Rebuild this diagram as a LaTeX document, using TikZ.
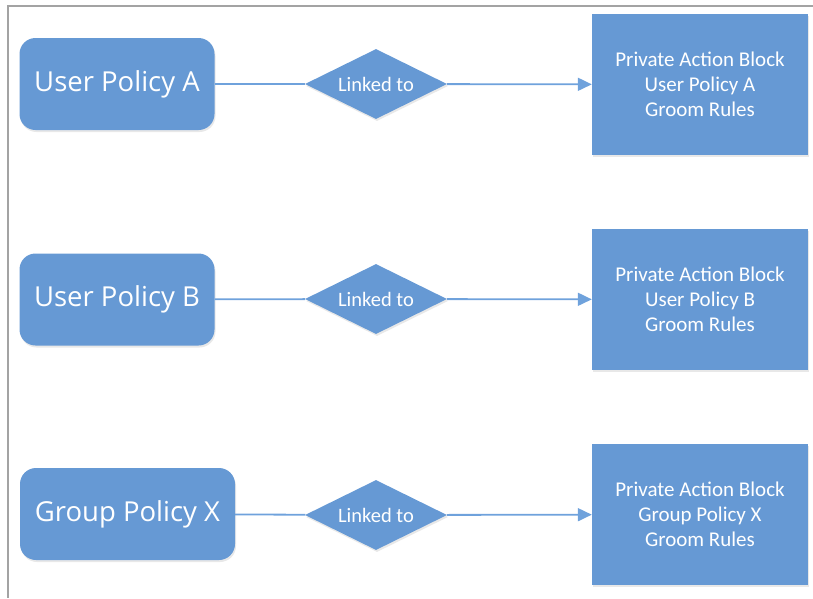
\documentclass[tikz,border=0pt]{standalone}
\usepackage{fontspec}
\setmainfont{Open Sans}
\newfontfamily\smallfont{Carlito}
\usepackage{tikz}
\usetikzlibrary{arrows.meta, positioning, shapes.geometric, shadows}
\definecolor{pblue}{HTML}{6699D4}
\definecolor{lblue}{HTML}{6FA2DC}
\definecolor{fgray}{HTML}{A3A3A3}

\tikzset{
  policy/.style={fill=pblue, text=white, rounded corners=16pt, minimum width=195pt,
    minimum height=92pt, inner xsep=10pt, font=\fontsize{27.5}{30}\selectfont,
    drop shadow={opacity=0.18, shadow xshift=1pt, shadow yshift=-2pt}},
  linkdia/.style={diamond, aspect=2.03, fill=pblue, text=white, inner sep=0pt,
    minimum width=142pt, minimum height=70pt, font=\smallfont\fontsize{20.5}{22}\selectfont,
    drop shadow={opacity=0.18, shadow xshift=1pt, shadow yshift=-2pt}},
  actblock/.style={rectangle, fill=pblue, text=white, minimum width=216pt, minimum height=141pt,
    align=center, font=\smallfont\fontsize{21}{25}\selectfont,
    drop shadow={opacity=0.18, shadow xshift=1pt, shadow yshift=-2pt}},
  link/.style={lblue, line width=1.8pt},
  linkarr/.style={link, -{Triangle[length=14pt, width=13pt]}}
}

\begin{document}
\begin{tikzpicture}[x=1pt, y=-1pt]
\useasboundingbox (0,0) rectangle (813,598);
\draw[fgray, line width=2pt] (813,6) -- (8,6) -- (8,598);

% row A
\node[policy] (pa) at (117,84) {User Policy A};
\node[linkdia] (la) at (376,84) {Linked to};
\node[actblock] (ba) at (700,84.5) {Private Action Block\\User Policy A\\Groom Rules};
\draw[link] (pa) -- (la);
\draw[linkarr] (la) -- (ba);

% row B
\node[policy] (pb) at (117,299.5) {User Policy B};
\node[linkdia] (lb) at (376,299) {Linked to};
\node[actblock] (bb) at (700,299.5) {Private Action Block\\User Policy B\\Groom Rules};
\draw[link] (pb) -- (lb);
\draw[linkarr] (lb) -- (bb);

% row X
\node[policy, minimum width=215pt] (px) at (127.5,514) {Group Policy X};
\node[linkdia] (lx) at (376,515) {Linked to};
\node[actblock] (bx) at (700,514.5) {Private Action Block\\Group Policy X\\Groom Rules};
\draw[link] (px) -- (lx);
\draw[linkarr] (lx) -- (bx);
\end{tikzpicture}
\end{document}
